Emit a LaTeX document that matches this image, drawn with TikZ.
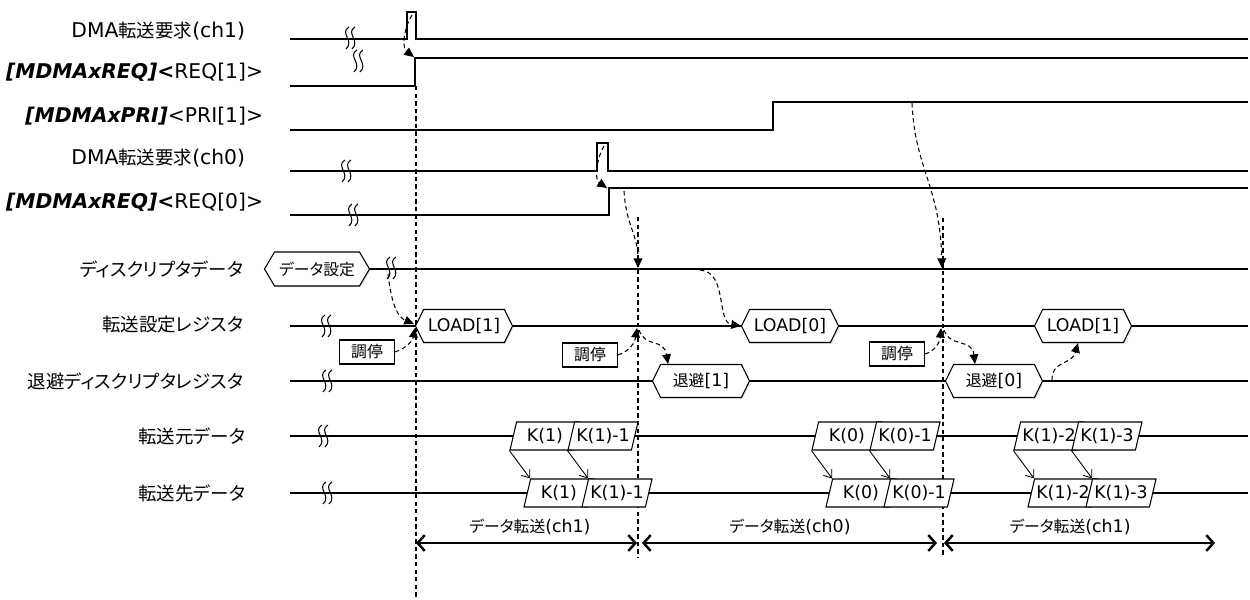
\documentclass[tikz,border=0pt]{standalone}
\usepackage{fontspec}
\setmainfont{DejaVu Sans}[Scale=1.1]
\newfontfamily\jpfont{Noto Sans CJK JP}[RawFeature=+palt]
\usetikzlibrary{arrows.meta,shapes.symbols,shapes.geometric,shadows,calc}

\begin{document}
\begin{tikzpicture}[x=0.02cm, y=-0.02cm, line width=0.6pt,
  every node/.style={font=\fontsize{9}{11}\selectfont},
  lbl/.style={anchor=east, font=\fontsize{10.5}{12}\selectfont},
  hexa/.style={draw, fill=white, shape=signal, signal to=west and east,
    signal pointer angle=128, minimum width=1.94cm, minimum height=0.66cm,
    inner sep=1pt, drop shadow={shadow xshift=0.7pt, shadow yshift=-0.7pt, opacity=0.25}},
  para/.style={draw, fill=white, trapezium, trapezium left angle=67,
    trapezium right angle=113, trapezium stretches body,
    minimum width=1.4cm, minimum height=0.56cm, inner sep=0pt},
  arb/.style={draw, fill=white, minimum width=1.1cm, minimum height=0.48cm, inner sep=1pt},
  cue/.style={dash pattern=on 2.5pt off 1.8pt, -{Triangle[length=5.5pt,width=5pt]}},
  guide/.style={dash pattern=on 2.5pt off 1.8pt},
  xfer/.style={line width=0.5pt, -{Straight Barb[length=4pt,width=6pt]}},
  period/.style={line width=1.4pt, {Straight Barb[length=4pt,width=9pt]}-{Straight Barb[length=4pt,width=9pt]}},
  brk/.pic={\draw[line width=0.6pt] (2,-11) .. controls (-8,-5) and (8,3) .. (-1,11)
    (8,-11) .. controls (-2,-5) and (14,3) .. (5,11);}]
  \useasboundingbox (0,0) rectangle (1250,599);

  % signal names
  \node[lbl] (nch1) at (252,31) {DMA{\jpfont 転送要求}(ch1)};
  \node[lbl] (nreq1) at (270,72) {\textbf{\textit{[MDMAxREQ]<}}REQ[1]>};
  \node[lbl] (npri1) at (270,116) {\textbf{\textit{[MDMAxPRI]}}<PRI[1]>};
  \node[lbl] (nch0) at (252,158) {DMA{\jpfont 転送要求}(ch0)};
  \node[lbl] (nreq0) at (270,202) {\textbf{\textit{[MDMAxREQ]<}}REQ[0]>};
  \node[lbl] (ndsc) at (250,269) {\jpfont ディスクリプタデータ};
  \node[lbl] (nreg) at (250,325) {\jpfont 転送設定レジスタ};
  \node[lbl] (nsav) at (250,381) {\jpfont 退避ディスクリプタレジスタ};
  \node[lbl] (nsrc) at (252,436) {\jpfont 転送元データ};
  \node[lbl] (ndst) at (252,493) {\jpfont 転送先データ};

  % guide lines
  \coordinate (g1t) at (416,86);  \coordinate (g1b) at (416,598);
  \coordinate (g2t) at (638,217); \coordinate (g2b) at (638,557);
  \coordinate (g3t) at (943,218); \coordinate (g3b) at (943,557);
  \draw[guide] (g1t) -- (g1b);
  \draw[guide] (g2t) -- (g2b);
  \draw[guide] (g3t) -- (g3b);

  % waveforms
  \draw (290,39) -- (407,39) -- (407,12) -- (416,12) -- (416,39) -- (1248,39);
  \draw (290,86) -- (415,86) -- (415,58) -- (1248,58);
  \draw (290,130) -- (773,130) -- (773,102) -- (1248,102);
  \draw (290,171) -- (597,171) -- (597,143) -- (608,143) -- (608,171) -- (1248,171);
  \draw (290,215) -- (609,215) -- (609,188) -- (1248,188);
  \draw (290,326) -- (1248,326);
  \draw (290,381) -- (1248,381);
  \draw (290,436) -- (1248,436);
  \draw (290,493) -- (1248,493);

  \node[hexa, minimum width=2.1cm, minimum height=0.68cm, signal pointer angle=119] (dset) at (317,269) {\jpfont データ設定};
  \draw (dset.east) -- (1248,269);

  \foreach \x/\y in {347/38, 355/61, 343/171, 350/215, 388/268, 323/326, 324/381, 320/436, 324/493}
    \pic at (\x,\y) {brk};

  % registers
  \node[hexa] (ld1) at (464,326) {LOAD[1]};
  \node[hexa] (ld0) at (790,326) {LOAD[0]};
  \node[hexa] (ld2) at (1083,326) {LOAD[1]};
  \node[hexa] (sv1) at (701,381) {{\jpfont 退避}[1]};
  \node[hexa] (sv0) at (994,381) {{\jpfont 退避}[0]};
  \node[arb] (arb1) at (367,352) {\jpfont 調停};
  \node[arb] (arb2) at (590,355) {\jpfont 調停};
  \node[arb] (arb3) at (897,354) {\jpfont 調停};

  % data
  \node[para] (sa1) at (545,436) {K(1)};
  \node[para] (sa2) at (603,436) {K(1)-1};
  \node[para] (da1) at (559,493) {K(1)};
  \node[para] (da2) at (617,493) {K(1)-1};
  \node[para] (sb1) at (847,436) {K(0)};
  \node[para] (sb2) at (905,436) {K(0)-1};
  \node[para] (db1) at (861,493) {K(0)};
  \node[para] (db2) at (919,493) {K(0)-1};
  \node[para] (sc1) at (1049,436) {K(1)-2};
  \node[para] (sc2) at (1107,436) {K(1)-3};
  \node[para] (dc1) at (1063,493) {K(1)-2};
  \node[para] (dc2) at (1121,493) {K(1)-3};
  \foreach \s/\d in {sa1/da1, sa2/da2, sb1/db1, sb2/db2, sc1/dc1, sc2/dc2}
    \draw[xfer] (\s.bottom left corner) -- (\d.top left corner);

  % triggers
  \coordinate (p1top) at (412,15);  \coordinate (r1edge) at (414,57);
  \draw[cue] (p1top) .. controls (403,30) and (402,48) .. (r1edge);
  \coordinate (p0top) at (604,146); \coordinate (r0edge) at (607,188);
  \draw[cue] (p0top) .. controls (595,162) and (595,180) .. (r0edge);
  \coordinate (r0hi) at (624,191);  \coordinate (dsc2) at (638,268);
  \draw[cue] (r0hi) .. controls (626,225) and (638,235) .. (dsc2);
  \coordinate (prihi) at (912,103); \coordinate (dsc3) at (942,268);
  \draw[cue] (prihi) .. controls (915,170) and (940,185) .. (dsc3);
  \coordinate (dsq) at (388,274);
  \draw[cue] (dsq) .. controls (392,310) and (400,318) .. ($(ld1.west)+(-1,-2)$);
  \draw[cue] (arb1.east) .. controls (407,348) and (413,340) .. ($(ld1.west)+(0,2)$);
  \coordinate (dld0) at (700,270);
  \draw[cue] (dld0) .. controls (728,272) and (716,322) .. (ld0.west);
  \coordinate (g2r) at (637,328); \coordinate (g2s) at (639,330);
  \draw[cue] (arb2.east) .. controls (630,351) and (635,342) .. (g2r);
  \draw[cue] (g2s) .. controls (645,348) and (664,338) .. ($(sv1.north)+(-33,0)$);
  \coordinate (g3r) at (941,328); \coordinate (g3s) at (944,330);
  \draw[cue] (arb3.east) .. controls (935,351) and (940,342) .. (g3r);
  \draw[cue] (g3s) .. controls (950,348) and (972,338) .. ($(sv0.north)+(-19,0)$);
  \coordinate (svout) at (1052,380);
  \draw[cue] (svout) .. controls (1052,360) and (1072,365) .. ($(ld2.south)+(-5,0)$);

  % transfer periods
  \coordinate (p1a) at (416,543); \coordinate (p1b) at (637,543);
  \coordinate (p2a) at (642,543); \coordinate (p2b) at (937,543);
  \coordinate (p3a) at (944,543); \coordinate (p3b) at (1215,543);
  \draw[period] (p1a) -- (p1b);
  \draw[period] (p2a) -- (p2b);
  \draw[period] (p3a) -- (p3b);
  \node (t1) at (530,527) {{\jpfont データ転送}(ch1)};
  \node (t2) at (790,527) {{\jpfont データ転送}(ch0)};
  \node (t3) at (1070,527) {{\jpfont データ転送}(ch1)};
\end{tikzpicture}
\end{document}
